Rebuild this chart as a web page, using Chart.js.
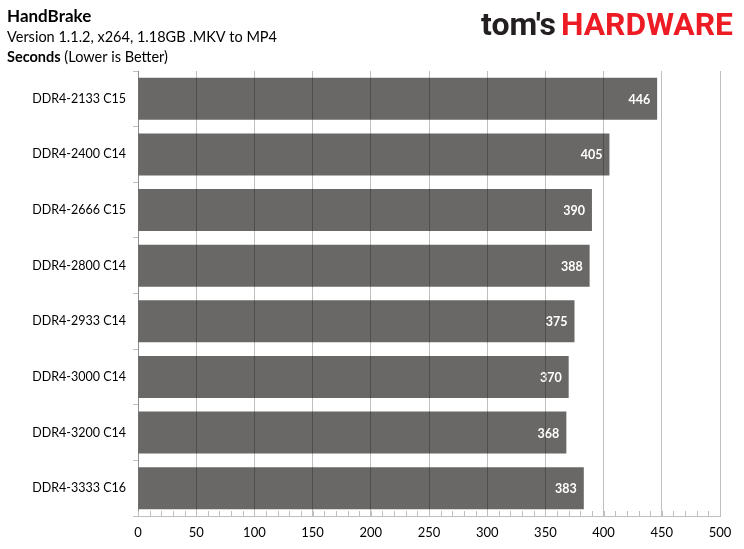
<!DOCTYPE html>
<html><head><meta charset="utf-8">
<script src="https://cdn.jsdelivr.net/npm/chart.js@4.4.1/dist/chart.umd.min.js"></script>
<style>
html,body{margin:0;padding:0;background:#fff;}
#wrap{position:relative;width:744px;height:549px;}
canvas{position:absolute;left:0;top:0;}
</style></head>
<body><div id="wrap"><canvas id="c" width="744" height="549"></canvas></div>
<script>
const categories = ["DDR4-2133 C15","DDR4-2400 C14","DDR4-2666 C15","DDR4-2800 C14","DDR4-2933 C14","DDR4-3000 C14","DDR4-3200 C14","DDR4-3333 C16"];
const seconds = [446, 405, 390, 388, 375, 370, 368, 383];
const xTicks = [0,50,100,150,200,250,300,350,400,450,500];
const titleText = "HandBrake";
const subtitleText = "Version 1.1.2, x264, 1.18GB .MKV to MP4";
const unitBold = "Seconds";
const unitRest = " (Lower is Better)";

const FONT = "Lato, 'Open Sans', sans-serif";
const AXIS = "#bfbfbf";

const overlay = {
  id: 'overlay',
  afterDatasetsDraw(chart) {
    const ctx = chart.ctx;
    const meta = chart.getDatasetMeta(0);
    ctx.save();
    ctx.font = "bold 12.5px " + FONT;
    ctx.fillStyle = "#ffffff";
    ctx.textAlign = "right";
    ctx.textBaseline = "middle";
    meta.data.forEach((bar, i) => {
      ctx.fillText(String(seconds[i]), bar.x - 7, bar.y + 1);
    });
    ctx.restore();
  },
  afterDraw(chart) {
    const ctx = chart.ctx;
    const xs = chart.scales.x;
    const bottom = chart.chartArea.bottom;
    ctx.save();
    // minor ticks
    ctx.strokeStyle = AXIS;
    ctx.lineWidth = 1;
    for (let v = 0; v <= 500; v += 10) {
      const px = Math.round(xs.getPixelForValue(v)) + 0.5;
      ctx.beginPath();
      ctx.moveTo(px, bottom);
      ctx.lineTo(px, bottom - 5);
      ctx.stroke();
    }
    // titles
    ctx.fillStyle = "#000";
    ctx.textAlign = "left";
    ctx.textBaseline = "alphabetic";
    ctx.font = "bold 17px " + FONT;
    ctx.fillText(titleText, 7, 22);
    ctx.font = "14.5px " + FONT;
    ctx.fillText(subtitleText, 7, 42);
    ctx.font = "bold 14.5px " + FONT;
    ctx.fillText(unitBold, 7, 62);
    const w = ctx.measureText(unitBold).width;
    ctx.font = "14.5px " + FONT;
    ctx.fillText(unitRest, 7 + w, 62);
    // logo
    function fitText(txt, x, x2, y, font, color) {
      ctx.font = font;
      const mw = ctx.measureText(txt).width;
      ctx.save();
      ctx.translate(x, y);
      ctx.scale((x2 - x) / mw, 1);
      ctx.fillStyle = color;
      ctx.fillText(txt, 0, 0);
      ctx.restore();
    }
    fitText("tom's", 481, 556, 35, "bold 31px Roboto, sans-serif", "#231f20");
    fitText("HARDWARE", 561, 733, 35, "bold 31px Roboto, sans-serif", "#ed1c24");
    ctx.restore();
  }
};

new Chart(document.getElementById('c'), {
  type: 'bar',
  data: {
    labels: categories,
    datasets: [{
      data: seconds,
      backgroundColor: "#696866",
      borderWidth: 0,
      categoryPercentage: 1.0,
      barPercentage: 0.755
    }]
  },
  options: {
    indexAxis: 'y',
    responsive: false,
    animation: false,
    devicePixelRatio: 1,
    layout: { padding: { top: 71, right: 24, left: 0, bottom: 0 } },
    plugins: { legend: { display: false }, tooltip: { enabled: false }, title: { display: false } },
    scales: {
      x: {
        min: 0, max: 500,
        z: 1,
        afterBuildTicks(scale) { scale.ticks = xTicks.map(v => ({ value: v })); },
        afterFit(scale) { scale.height = 33; },
        grid: { color: "rgba(0,0,0,0.25)", drawTicks: false, lineWidth: 1, z: 1 },
        border: { display: true, color: AXIS, width: 1, z: 1 },
        ticks: { color: "#000", font: { family: FONT, size: 13 }, padding: 9, maxRotation: 0 }
      },
      y: {
        afterFit(scale) { scale.width = 138; },
        grid: { drawOnChartArea: false, drawTicks: true, tickLength: 5, offset: true, color: AXIS },
        border: { display: true, color: AXIS, width: 1 },
        ticks: { color: "#000", font: { family: FONT, size: 12.5 }, padding: 7 }
      }
    }
  },
  plugins: [overlay]
});
</script></body></html>
